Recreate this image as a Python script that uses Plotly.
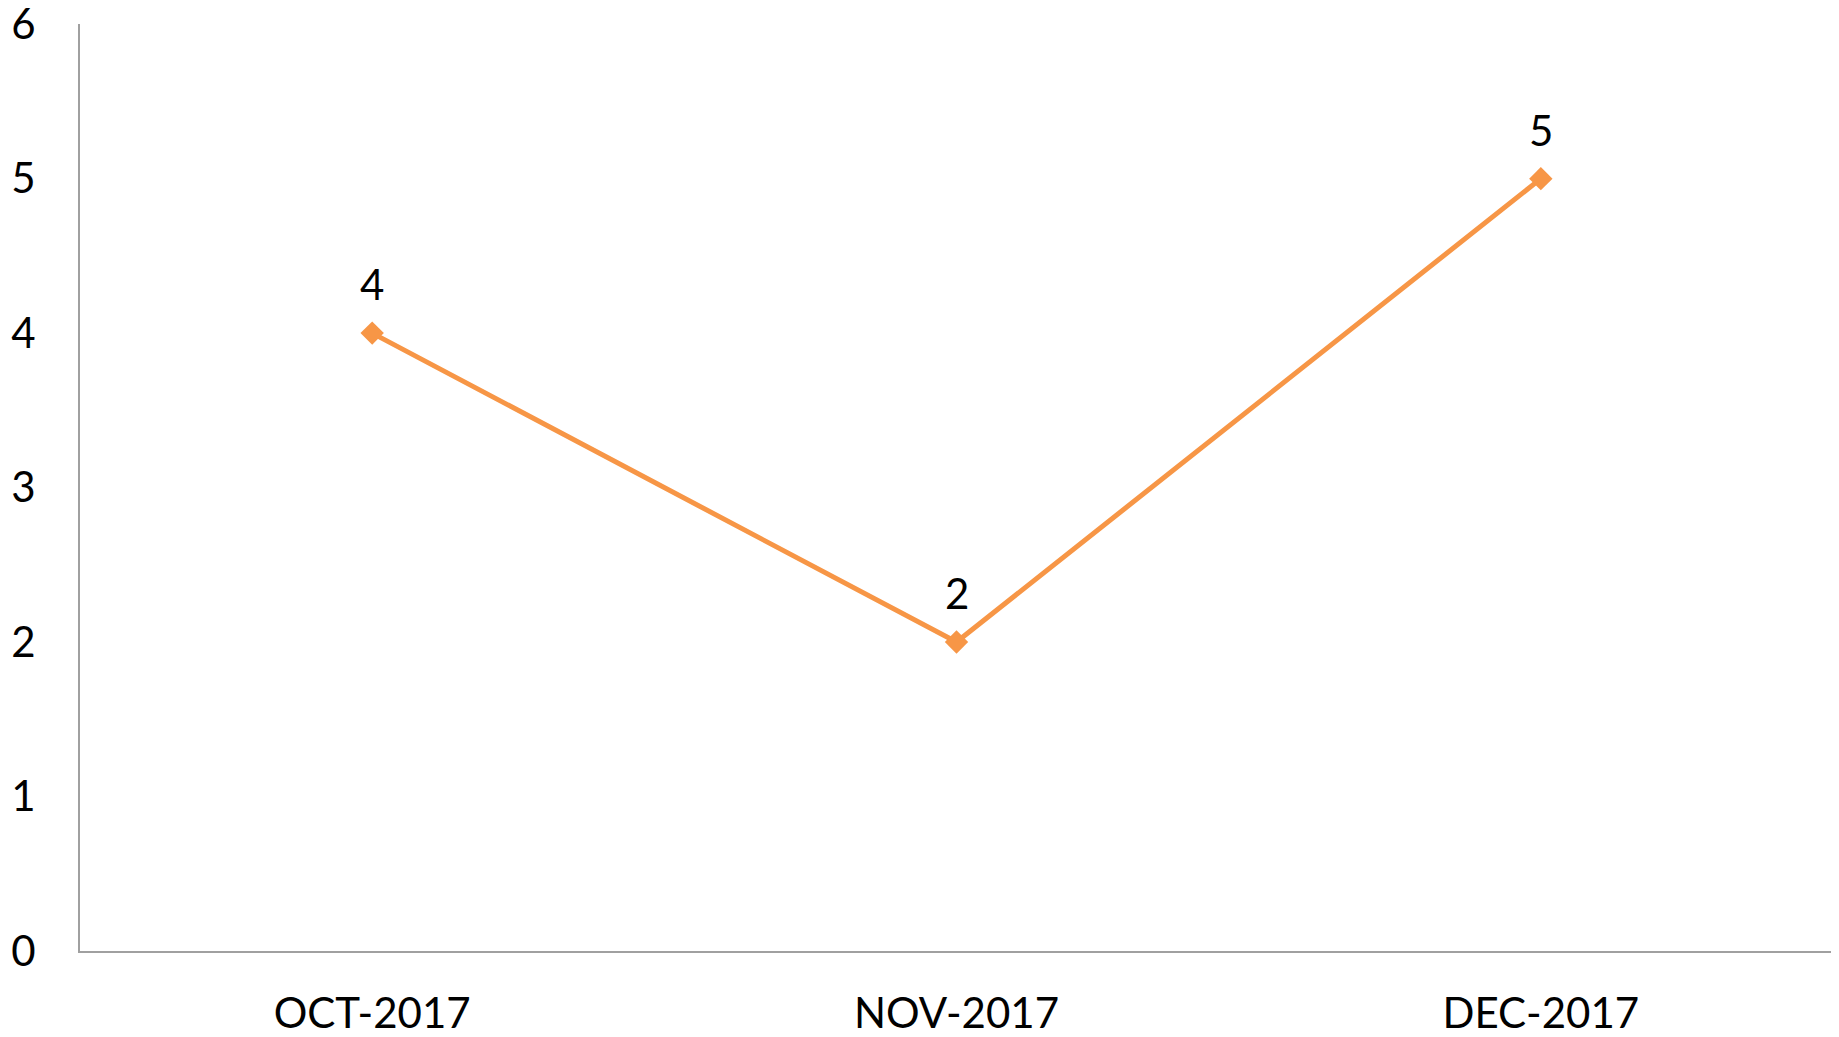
import plotly.graph_objects as go

months = ["OCT-2017", "NOV-2017", "DEC-2017"]
values = [4, 2, 5]
y_ticks = [0, 1, 2, 3, 4, 5, 6]

ORANGE = "#F79646"
FONT = "Lato"

fig = go.Figure()
fig.add_trace(go.Scatter(
    x=months, y=values, mode="lines+markers",
    line=dict(color=ORANGE, width=5),
    marker=dict(symbol="diamond", size=18, color=ORANGE),
    hoverinfo="skip", showlegend=False, cliponaxis=False,
))
for m, v in zip(months, values):
    fig.add_annotation(x=m, y=v, text=str(v), showarrow=False,
                       yanchor="middle", yshift=49,
                       font=dict(family=FONT, size=42, color="#000000"))

fig.update_layout(
    width=1839, height=1037,
    margin=dict(l=72, r=14, t=16, b=94),
    paper_bgcolor="white", plot_bgcolor="white",
    font=dict(family=FONT, size=42, color="#000000"),
)
fig.update_xaxes(
    type="category", range=[-0.5, 2.5], automargin=False,
    showline=True, linecolor="#A0A0A0", linewidth=2,
    showgrid=False, zeroline=False, ticks="",
    ticklabelstandoff=25,
    tickfont=dict(family=FONT, size=42, color="#000000"),
)
fig.update_yaxes(
    range=[0, 6.001], tickvals=y_ticks, automargin=False,
    ticklabeloverflow="allow",
    showline=True, linecolor="#A0A0A0", linewidth=2,
    showgrid=False, zeroline=False, ticks="",
    ticklabelstandoff=34,
    tickfont=dict(family=FONT, size=42, color="#000000"),
)

fig.write_html("out.html")
